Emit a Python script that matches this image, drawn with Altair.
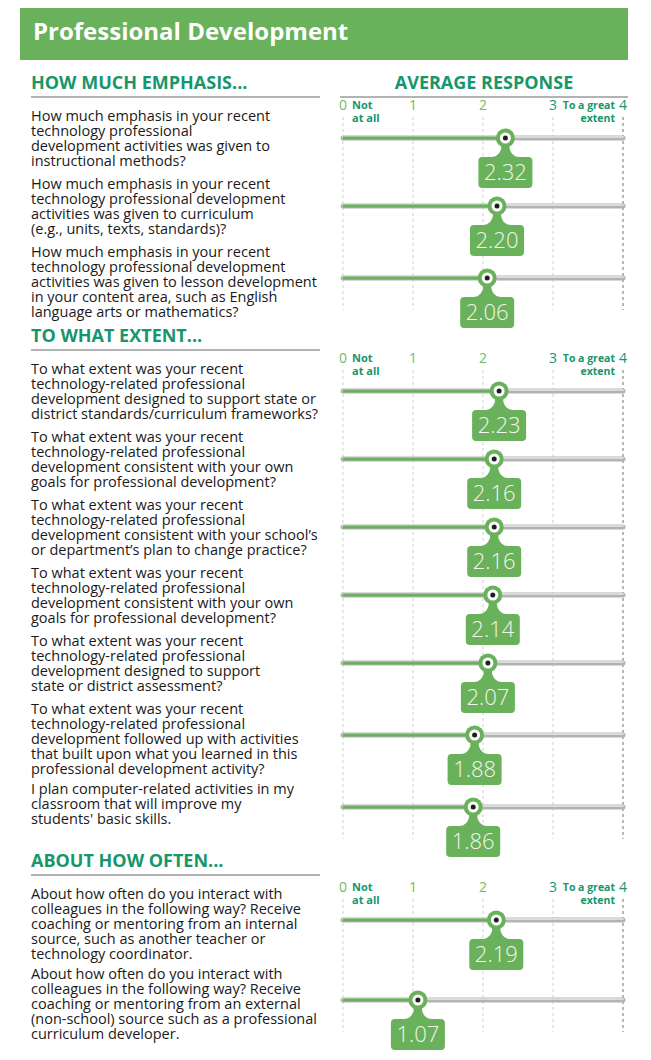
import altair as alt
import pandas as pd

# ---------------- data ----------------
TITLE = "Professional Development"
RESPONSE_HEADER = "AVERAGE RESPONSE"
SECTIONS = ["HOW MUCH EMPHASIS...", "TO WHAT EXTENT...", "ABOUT HOW OFTEN..."]
Q_SECTION = [0, 0, 0, 1, 1, 1, 1, 1, 1, 1, 2, 2]
Q_TEXT = [
    "How much emphasis in your recent\ntechnology professional\ndevelopment activities was given to\ninstructional methods?",
    "How much emphasis in your recent\ntechnology professional development\nactivities was given to curriculum\n(e.g., units, texts, standards)?",
    "How much emphasis in your recent\ntechnology professional development\nactivities was given to lesson development\nin your content area, such as English\nlanguage arts or mathematics?",
    "To what extent was your recent\ntechnology-related professional\ndevelopment designed to support state or\ndistrict standards/curriculum frameworks?",
    "To what extent was your recent\ntechnology-related professional\ndevelopment consistent with your own\ngoals for professional development?",
    "To what extent was your recent\ntechnology-related professional\ndevelopment consistent with your school\u2019s\nor department\u2019s plan to change practice?",
    "To what extent was your recent\ntechnology-related professional\ndevelopment consistent with your own\ngoals for professional development?",
    "To what extent was your recent\ntechnology-related professional\ndevelopment designed to support\nstate or district assessment?",
    "To what extent was your recent\ntechnology-related professional\ndevelopment followed up with activities\nthat built upon what you learned in this\nprofessional development activity?",
    "I plan computer-related activities in my\nclassroom that will improve my\nstudents' basic skills.",
    "About how often do you interact with\ncolleagues in the following way? Receive\ncoaching or mentoring from an internal\nsource, such as another teacher or\ntechnology coordinator.",
    "About how often do you interact with\ncolleagues in the following way? Receive\ncoaching or mentoring from an external\n(non-school) source such as a professional\ncurriculum developer.",
]
Q_VALUE = [2.32, 2.20, 2.06, 2.23, 2.16, 2.16, 2.14, 2.07, 1.88, 1.86, 2.19, 1.07]
TICKS = [0, 1, 2, 3, 4]
LOW_LABEL = ["Not", "at all"]
HIGH_LABEL = ["To a great", "extent"]

# ---------------- styles / layout ----------------
W, H = 635, 1044
FONT = "Open Sans"
GREEN = "#69b15a"
DARK_GREEN = "#17966c"
LIGHT_NUM = "#74bb63"
TAG_PATH = ("M -4 8 C -4 14 -8 19 -14 19 L -23 19 Q -27 19 -27 23 L -27 46 "
            "Q -27 50 -23 50 L 23 50 Q 27 50 27 46 L 27 23 Q 27 19 23 19 "
            "L 14 19 C 8 19 4 14 4 8 Z")

rows, secs, scale_rows, grid_rows, end_rows = [], [], [], [], []
y = 84
for s, name in enumerate(SECTIONS):
    header_y = y
    top = header_y + 31
    tracks = []
    for i in range(len(Q_TEXT)):
        if Q_SECTION[i] != s:
            continue
        n = Q_TEXT[i].count("\n") + 1
        track = top + 4 * n + 7
        rows.append(dict(text=Q_TEXT[i], value=Q_VALUE[i], zero=TICKS[0], four=TICKS[-1],
                         text_y=top - 5, track=track, label=f"{Q_VALUE[i]:.2f}",
                         label_y=track + 35))
        tracks.append(track)
        top += max(68, 14 * n + 10)
    secs.append(dict(name=name, header=header_y, rule_y=header_y + 13))
    sy = tracks[0] - 32
    for t in TICKS:
        scale_rows.append(dict(tick=t, y=sy, lab=str(t),
                               col=LIGHT_NUM if t < 3 else DARK_GREEN))
        grid_rows.append(dict(tick=t, y1=sy + 11, y2=tracks[-1] + 32,
                              col="#cfcfcf" if t < 4 else "#6e6e6e"))
    for k in range(2):
        end_rows.append(dict(lo=LOW_LABEL[k], hi=HIGH_LABEL[k], t0=TICKS[0], t4=TICKS[-1],
                             y=sy + 13 * k))
    y = top + 6

rows_df = pd.DataFrame(rows)
secs_df = pd.DataFrame(secs)
scale_df = pd.DataFrame(scale_rows)
grid_df = pd.DataFrame(grid_rows)
end_df = pd.DataFrame(end_rows)
resp_df = pd.DataFrame([dict(t=RESPONSE_HEADER, y=secs[0]["header"], ry=secs[0]["rule_y"])])
title_df = pd.DataFrame([dict(t=TITLE)])

XS = alt.Scale(domain=[0, 4], range=[335, 615], nice=False, zero=False)
YS = alt.Scale(domain=[8, 8 + H], range=[0, H], nice=False, zero=False)


def X(f):
    return alt.X(f, type="quantitative", scale=XS, axis=None)


def Y(f):
    return alt.Y(f, type="quantitative", scale=YS, axis=None)


header_bar = alt.Chart(title_df).mark_rect(color=GREEN).encode(
    x=alt.value(12), x2=alt.value(620), y=alt.value(0), y2=alt.value(52))
title = alt.Chart(title_df).mark_text(
    align="left", baseline="middle", font=FONT, fontSize=24, fontWeight="bold", color="white"
).encode(x=alt.value(25), y=alt.value(25), text="t:N")

sec_text = alt.Chart(secs_df).mark_text(
    align="left", baseline="middle", font=FONT, fontSize=18, fontWeight="bold", color=DARK_GREEN
).encode(x=alt.value(23), y=Y("header"), text="name:N")
sec_rule = alt.Chart(secs_df).mark_rule(color="#9a9a9a", strokeWidth=1.5).encode(
    x=alt.value(23), x2=alt.value(312), y=Y("rule_y"))

resp_text = alt.Chart(resp_df).mark_text(
    align="center", baseline="middle", font=FONT, fontSize=18, fontWeight="bold", color=DARK_GREEN
).encode(x=alt.value(476), y=Y("y"), text="t:N")
resp_rule = alt.Chart(resp_df).mark_rule(color="#9a9a9a", strokeWidth=1.5).encode(
    x=alt.value(332), x2=alt.value(620), y=Y("ry"))

grid = alt.Chart(grid_df).mark_rule(strokeDash=[3, 3], strokeWidth=1).encode(
    x=X("tick"), y=Y("y1"), y2="y2", color=alt.Color("col:N", scale=None))

nums = alt.Chart(scale_df).mark_text(
    align="center", baseline="middle", font=FONT, fontSize=14
).encode(x=X("tick"), y=Y("y"), text="lab:N", color=alt.Color("col:N", scale=None))

lo_text = alt.Chart(end_df).mark_text(
    align="left", baseline="middle", font=FONT, fontSize=11, fontWeight="bold", color=DARK_GREEN, dx=9
).encode(x=X("t0"), y=Y("y"), text="lo:N")
hi_text = alt.Chart(end_df).mark_text(
    align="right", baseline="middle", font=FONT, fontSize=10.5, fontWeight="bold", color=DARK_GREEN, dx=-8
).encode(x=X("t4"), y=Y("y"), text="hi:N")

q_text = alt.Chart(rows_df).mark_text(
    align="left", baseline="top", font=FONT, fontSize=14.5, fontWeight=500, lineBreak="\n",
    lineHeight=15, color="#1a1a1a"
).encode(x=alt.value(23), y=Y("text_y"), text="text:N")

track_dark = alt.Chart(rows_df).mark_rule(strokeWidth=5, strokeCap="round", color="#b3b3b3").encode(
    x=X("zero"), x2="four", y=Y("track"))
track_light = alt.Chart(rows_df).mark_rule(strokeWidth=2, strokeCap="round", color="#dadada",
                                            yOffset=-1).encode(
    x=X("zero"), x2="four", y=Y("track"))
fill = alt.Chart(rows_df).mark_rule(strokeWidth=3, color=GREEN).encode(
    x=X("zero"), x2="value", y=Y("track"))

tag = alt.Chart(rows_df).mark_point(shape=TAG_PATH, size=4, filled=True, fill=GREEN,
                                    opacity=1, strokeWidth=0).encode(x=X("value"), y=Y("track"))
ring = alt.Chart(rows_df).mark_point(shape="circle", size=361, filled=True, fill=GREEN,
                                     opacity=1, strokeWidth=0).encode(x=X("value"), y=Y("track"))
inner = alt.Chart(rows_df).mark_point(shape="circle", size=121, filled=True, fill="white",
                                      opacity=1, strokeWidth=0).encode(x=X("value"), y=Y("track"))
dot = alt.Chart(rows_df).mark_point(shape="circle", size=25, filled=True, fill="#1e1e1e",
                                    opacity=1, strokeWidth=0).encode(x=X("value"), y=Y("track"))
val_text = alt.Chart(rows_df).mark_text(
    align="center", baseline="middle", font=FONT, fontSize=22, fontWeight=300, color="#f5f5ef"
).encode(x=X("value"), y=Y("label_y"), text="label:N")

chart = alt.layer(
    header_bar, title, sec_text, sec_rule, resp_text, resp_rule, grid, nums, lo_text, hi_text,
    q_text, track_dark, track_light, fill, tag, ring, inner, dot, val_text
).properties(width=W, height=H, padding=0, autosize="none").configure_view(stroke=None)

chart.save("out.html", embed_options={"renderer": "svg", "actions": False})
